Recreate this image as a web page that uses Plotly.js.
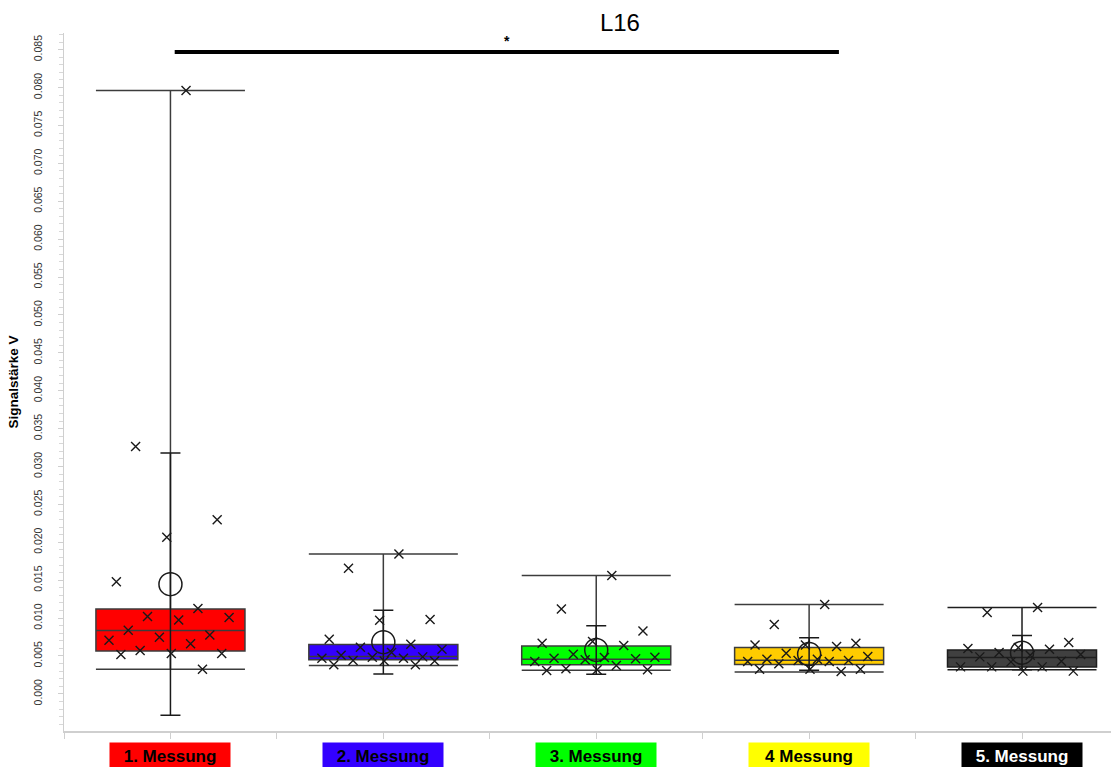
<!DOCTYPE html>
<html>
<head>
<meta charset="utf-8">
<script src="https://cdn.plot.ly/plotly-3.0.1.min.js"></script>
<style>html,body{margin:0;padding:0;background:#fff;}#chart{width:1111px;height:767px;}</style>
</head>
<body>
<div id="chart"></div>
<script>
// ---- data ----
const chartTitle = 'L16';
const yTitle = 'Signalstärke V';
const categories = ['1. Messung', '2. Messung', '3. Messung', '4 Messung', '5. Messung'];
const boxColors = ['#ff0000', '#3300ff', '#00ff00', '#ffcc00', '#404040'];
const labelColors = ['#ff0000', '#3300ff', '#00ff00', '#ffff00', '#000000'];
const labelTextColors = ['#000000', '#000000', '#000000', '#000000', '#ffffff'];

const q1 = [0.00567, 0.00449, 0.00383, 0.00387, 0.00356];
const medians = [0.00835, 0.00492, 0.00458, 0.00445, 0.00479];
const q3 = [0.01121, 0.00650, 0.00633, 0.00611, 0.00580];
const minima = [0.00326, 0.00374, 0.00313, 0.00290, 0.00317];
const maxima = [0.07960, 0.01847, 0.01561, 0.01178, 0.01139];
const means = [0.01447, 0.00682, 0.00580, 0.00525, 0.00543];
const sds = [0.01730, 0.00420, 0.00320, 0.00215, 0.00226];

const points1 = [0.0796, 0.03263, 0.02296, 0.02067, 0.01478, 0.01126, 0.0102, 0.01007, 0.00976, 0.0084, 0.00778, 0.00748, 0.00708, 0.0066, 0.00571, 0.00532, 0.00532, 0.00518, 0.00326];
const points2 = [0.01847, 0.01658, 0.0098, 0.00972, 0.00722, 0.00656, 0.00616, 0.0059, 0.00545, 0.0051, 0.00488, 0.00484, 0.00471, 0.00471, 0.00439, 0.00435, 0.00435, 0.00383, 0.00383];
const points3 = [0.01561, 0.01121, 0.00831, 0.0069, 0.00669, 0.00637, 0.00524, 0.00484, 0.00479, 0.0047, 0.00462, 0.00449, 0.00426, 0.00374, 0.0033, 0.00317, 0.00317, 0.00308];
const points4 = [0.01178, 0.00914, 0.00669, 0.00646, 0.00646, 0.00624, 0.00537, 0.00492, 0.00458, 0.00458, 0.00439, 0.00439, 0.00427, 0.00427, 0.00396, 0.00326, 0.00326, 0.00326, 0.00294];
const points5 = [0.01139, 0.01073, 0.00677, 0.00611, 0.00598, 0.0059, 0.00545, 0.00519, 0.0051, 0.00488, 0.00431, 0.00422, 0.00356, 0.00356, 0.00356, 0.003, 0.003];
const allPoints = [points1, points2, points3, points4, points5];

// significance bracket (between 1. and 4. Messung)
const sigFrom = 0.02;
const sigTo = 3.14;
const sigLevel = 0.0847;
const sigLabel = '*';

const yTickValues = [0, 0.005, 0.01, 0.015, 0.02, 0.025, 0.03, 0.035, 0.04, 0.045, 0.05, 0.055, 0.06, 0.065, 0.07, 0.075, 0.08, 0.085];

// ---- build traces ----
const FONT = 'Liberation Sans, Arial, Helvetica, sans-serif';
const BOX_WIDTH = 0.7;
const SPREAD = 0.62; // horizontal spread of the individual values inside a box
const idx = categories.map((c, i) => i);
const traces = [];

idx.forEach(i => {
  traces.push({
    type: 'box',
    name: categories[i],
    x: [i],
    q1: [q1[i]], median: [medians[i]], q3: [q3[i]],
    lowerfence: [minima[i]], upperfence: [maxima[i]],
    width: BOX_WIDTH,
    whiskerwidth: 1,
    fillcolor: boxColors[i],
    line: { color: i === 4 ? '#1e1e1e' : '#3c3c3c', width: 1.5 },
    boxpoints: false,
    hoverinfo: 'skip',
    showlegend: false
  });
});

// individual values, spread evenly (deterministic golden-ratio scatter) across the box width
idx.forEach(i => {
  const ys = allPoints[i];
  traces.push({
    type: 'scatter',
    mode: 'markers',
    name: categories[i] + ' Werte',
    x: ys.map((v, k) => i + ((((k + 1) * 0.6180339887) % 1) - 0.5) * SPREAD),
    y: ys,
    marker: { symbol: 'x-thin-open', size: 9, color: '#1a1a1a', line: { width: 1.4, color: '#1a1a1a' } },
    showlegend: false
  });
});

traces.push({
  type: 'scatter',
  mode: 'markers',
  x: idx,
  y: means,
  error_y: { type: 'data', array: sds, visible: true, color: '#1a1a1a', thickness: 1.5, width: 10 },
  marker: { symbol: 'circle-open', size: 23, color: '#1a1a1a', line: { width: 1.5, color: '#1a1a1a' } },
  showlegend: false
});

// category labels as coloured boxes under the axis
const annotations = idx.map(i => ({
  x: i, xref: 'x',
  y: -0.016, yref: 'paper', yanchor: 'top',
  text: '<b>' + categories[i] + '</b>',
  showarrow: false,
  bgcolor: labelColors[i],
  borderpad: 4,
  width: 112,
  font: { family: FONT, size: 17, color: labelTextColors[i] }
}));

annotations.push({
  x: (sigFrom + sigTo) / 2, xref: 'x',
  y: sigLevel, yref: 'y', yanchor: 'bottom', yshift: 1,
  text: '<b>' + sigLabel + '</b>',
  showarrow: false,
  font: { family: FONT, size: 14, color: '#000' }
});

const layout = {
  width: 1111, height: 767,
  margin: { l: 64, r: 0, t: 33, b: 36 },
  paper_bgcolor: '#fff', plot_bgcolor: '#fff',
  showlegend: false,
  boxmode: 'overlay',
  font: { family: FONT, color: '#000' },
  title: {
    text: chartTitle,
    x: 0.558, xref: 'container', xanchor: 'center',
    y: 0.971, yref: 'container', yanchor: 'middle',
    font: { family: FONT, size: 24, color: '#000' }
  },
  xaxis: {
    range: [-0.5, 4.418],
    showgrid: false, zeroline: false,
    showline: true, linecolor: '#cfcfcf', linewidth: 1.5,
    ticks: 'outside', ticklen: 6, tickcolor: '#cfcfcf', tickwidth: 1,
    tickmode: 'linear', tick0: -0.5, dtick: 0.5,
    showticklabels: false
  },
  yaxis: {
    range: [-0.0049, 0.0872],
    showgrid: false, zeroline: false,
    showline: true, linecolor: '#cfcfcf', linewidth: 1.5,
    ticks: 'outside', ticklen: 5, tickcolor: '#cfcfcf', tickwidth: 1,
    tickmode: 'array', tickvals: yTickValues,
    ticktext: yTickValues.map(v => v.toFixed(3)),
    tickangle: -90,
    ticklabelstandoff: 11,
    tickfont: { family: FONT, size: 10.5, color: '#333' },
    minor: { dtick: 0.001, ticks: 'outside', ticklen: 4, tickcolor: '#d8d8d8', tickwidth: 1 },
    title: { text: '<b>' + yTitle + '</b>', standoff: 10, font: { family: FONT, size: 13.5, color: '#000' } }
  },
  shapes: [{
    type: 'line', xref: 'x', yref: 'y',
    x0: sigFrom, x1: sigTo, y0: sigLevel, y1: sigLevel,
    line: { color: '#000', width: 4 }
  }],
  annotations: annotations
};

Plotly.newPlot('chart', traces, layout, { displayModeBar: false, staticPlot: true });
</script>
</body>
</html>
